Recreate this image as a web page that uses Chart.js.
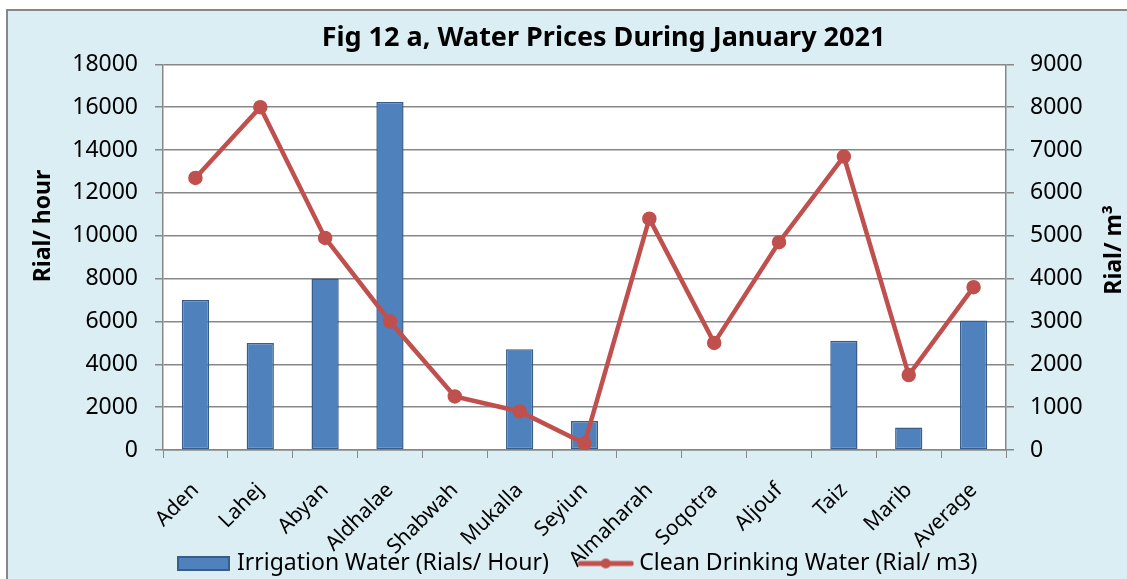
<!DOCTYPE html>
<html>
<head>
<meta charset="utf-8">
<script src="https://cdn.jsdelivr.net/npm/chart.js@4"></script>
<style>
    html, body { margin: 0; padding: 0; background: #ffffff; overflow: hidden; }
    #frame {
        position: absolute; left: 6px; top: 9px; width: 1200px; height: 700px;
        background: #dbeef3; border: 2px solid #878787;
    }
    #waterChart { position: absolute; left: 0; top: 0; }
</style>
</head>
<body>
<div id="frame"></div>
<canvas id="waterChart" width="1127" height="579"></canvas>
<script>
const regions = ['Aden', 'Lahej', 'Abyan', 'Aldhalae', 'Shabwah', 'Mukalla', 'Seyiun',
    'Almaharah', 'Soqotra', 'Aljouf', 'Taiz', 'Marib', 'Average'];
const irrigationPrices = [7000, 5000, 8000, 16250, 0, 4700, 1350, 0, 0, 0, 5100, 1050, 6050];
const drinkingPrices = [6350, 8000, 4950, 3000, 1250, 900, 150, 5400, 2500, 4850, 6850, 1750, 3800];
const leftTicks = [0, 2000, 4000, 6000, 8000, 10000, 12000, 14000, 16000, 18000];
const rightTicks = [0, 1000, 2000, 3000, 4000, 5000, 6000, 7000, 8000, 9000];

const blue = '#4f81bd';
const blueEdge = '#385d8a';
const red = '#c0504d';
const gridGrey = '#878787';
const fontFamily = '"Noto Sans", "Open Sans", sans-serif';

// little pictures for the legend keys
function barKey() {
    const c = document.createElement('canvas');
    c.width = 53; c.height = 15;
    const g = c.getContext('2d');
    g.fillStyle = blue;
    g.fillRect(0, 0, 53, 15);
    g.strokeStyle = blueEdge;
    g.lineWidth = 2;
    g.strokeRect(1, 1, 51, 13);
    return c;
}

function lineKey() {
    const c = document.createElement('canvas');
    c.width = 57; c.height = 12;
    const g = c.getContext('2d');
    g.strokeStyle = red;
    g.lineWidth = 5;
    g.lineCap = 'round';
    g.beginPath();
    g.moveTo(3, 6);
    g.lineTo(54, 6);
    g.stroke();
    g.fillStyle = red;
    g.beginPath();
    g.arc(28.5, 6, 5, 0, Math.PI * 2);
    g.fill();
    return c;
}

function sideTitle(ctx, text, x, y) {
    ctx.save();
    ctx.fillStyle = '#000000';
    ctx.font = 'bold 23px ' + fontFamily;
    ctx.textAlign = 'center';
    ctx.textBaseline = 'middle';
    ctx.translate(x, y);
    ctx.rotate(-Math.PI / 2);
    ctx.fillText(text, 0, 0);
    ctx.restore();
}

const plotBackground = {
    id: 'plotBackground',
    beforeDraw(chart) {
        const {ctx, chartArea} = chart;
        ctx.save();
        ctx.fillStyle = '#ffffff';
        ctx.fillRect(chartArea.left, chartArea.top, chartArea.right - chartArea.left, chartArea.bottom - chartArea.top);
        ctx.restore();
    },
    afterLayout(chart) {
        chart.titleBlock.left += 40;
        chart.titleBlock.right += 40;
        chart.legend.left += 16;
        chart.legend.right += 16;
        chart.legend.top -= 8;
        chart.legend.bottom = chart.height;
        // the rotated names run down past the legend line, don't clip them
        chart.scales.x.bottom = chart.height;
    },
    afterDraw(chart) {
        sideTitle(chart.ctx, 'Rial/ hour', 43, 226);
        sideTitle(chart.ctx, 'Rial/ m³', 1114, 250);
    }
};

const ctx = document.getElementById('waterChart').getContext('2d');

const waterChart = new Chart(ctx, {
    type: 'bar',
    data: {
        labels: regions,
        datasets: [{
            label: 'Irrigation Water (Rials/ Hour)',
            data: irrigationPrices,
            backgroundColor: blue,
            borderColor: blueEdge,
            borderWidth: 1.5,
            borderSkipped: false,
            barPercentage: 0.42,
            categoryPercentage: 1,
            yAxisID: 'y',
            order: 2
        }, {
            type: 'line',
            label: 'Clean Drinking Water (Rial/ m3)',
            data: drinkingPrices,
            borderColor: red,
            backgroundColor: red,
            borderWidth: 4.5,
            pointRadius: 5,
            pointHoverRadius: 5,
            tension: 0,
            yAxisID: 'y1',
            order: 1
        }]
    },
    options: {
        responsive: false,
        animation: false,
        layout: {
            padding: { left: 0, right: 0, top: 0, bottom: 0 }
        },
        plugins: {
            title: {
                display: true,
                text: 'Fig 12 a, Water Prices During January 2021',
                color: '#000000',
                font: { family: fontFamily, size: 27, weight: 'bold' },
                padding: { top: 22, bottom: 10 }
            },
            legend: {
                position: 'bottom',
                maxHeight: 54,
                labels: {
                    color: '#000000',
                    font: { family: fontFamily, size: 23 },
                    usePointStyle: true,
                    pointStyleWidth: 44,
                    padding: 35,
                    sort: (a, b) => a.datasetIndex - b.datasetIndex,
                    generateLabels(chart) {
                        const items = Chart.defaults.plugins.legend.labels.generateLabels(chart);
                        items.forEach(item => {
                            item.pointStyle = item.datasetIndex === 0 ? barKey() : lineKey();
                        });
                        return items;
                    }
                }
            },
            tooltip: { enabled: false }
        },
        scales: {
            x: {
                offset: true,
                grid: {
                    offset: true,
                    drawOnChartArea: false,
                    color: gridGrey,
                    tickLength: 8
                },
                border: { color: gridGrey, width: 1.5 },
                ticks: {
                    color: '#000000',
                    font: { family: fontFamily, size: 21 },
                    minRotation: 45,
                    maxRotation: 45,
                    padding: 20
                },
                afterFit(scale) { scale.height = 75; }
            },
            y: {
                position: 'left',
                min: 0,
                max: 18000,
                afterBuildTicks(scale) { scale.ticks = leftTicks.map(v => ({ value: v })); },
                grid: { color: gridGrey, lineWidth: 1.5, tickLength: 8 },
                border: { color: gridGrey, width: 1.5 },
                ticks: {
                    color: '#000000',
                    font: { family: fontFamily, size: 23 },
                    padding: 17,
                    callback: v => String(v)
                },
                afterFit(scale) { scale.width = 163; }
            },
            y1: {
                position: 'right',
                min: 0,
                max: 9000,
                afterBuildTicks(scale) { scale.ticks = rightTicks.map(v => ({ value: v })); },
                grid: { drawOnChartArea: false, color: gridGrey, lineWidth: 1.5, tickLength: 8 },
                border: { color: gridGrey, width: 1.5 },
                ticks: {
                    color: '#000000',
                    font: { family: fontFamily, size: 23 },
                    padding: 16,
                    callback: v => String(v)
                },
                afterFit(scale) { scale.width = 121; }
            }
        }
    },
    plugins: [plotBackground]
});
</script>
</body>
</html>
